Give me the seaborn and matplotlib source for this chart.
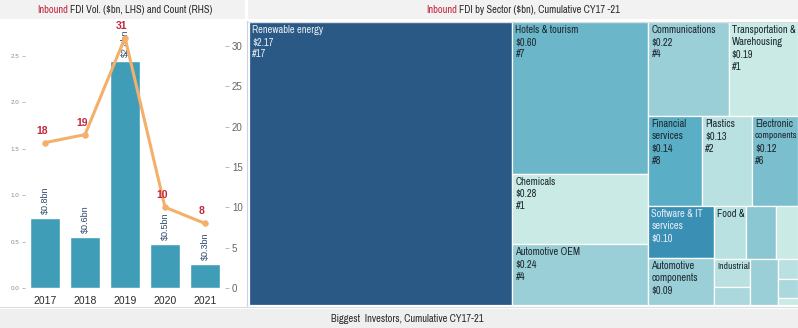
import numpy as np
import pandas as pd
import matplotlib
matplotlib.use("Agg")
import matplotlib.pyplot as plt
import seaborn as sns
from matplotlib.patches import Rectangle
from matplotlib.lines import Line2D
from matplotlib.colors import LinearSegmentedColormap, to_rgb
from matplotlib.textpath import TextPath
from matplotlib.font_manager import FontProperties, fontManager

# ---- yearly inbound FDI ----
years = ["2017", "2018", "2019", "2020", "2021"]
fdi_volume_bn = [0.75, 0.55, 2.44, 0.47, 0.26]
project_count = [18, 19, 31, 10, 8]

# ---- cumulative FDI by sector ----
sectors = [
    "Renewable energy", "Hotels & tourism", "Chemicals", "Automotive OEM",
    "Communications", "Transportation &\nWarehousing", "Financial\nservices",
    "Plastics", "Electronic\ncomponents", "Software & IT\nservices",
    "Automotive\ncomponents", "Food &\nBeverages", "Pharmaceuticals",
    "Consumer\nproducts", "Industrial\nmachinery", "Semiconductors",
    "Aerospace", "Metals", "Textiles", "Healthcare",
]
sector_value_bn = [2.17, 0.60, 0.28, 0.24, 0.22, 0.19, 0.14, 0.13, 0.12, 0.10,
                   0.09, 0.049, 0.046, 0.034, 0.029, 0.019, 0.038, 0.012,
                   0.011, 0.004]
sector_count = [17, 7, 1, 4, 4, 1, 8, 2, 6, 11, 4, 2, 5, 1, 2, 3, 4, 2, 3, 1]
# sectors grouped into the strips of the treemap, in drawing order
sector_strips = [[0], [1, 2, 3], [4, 5], [6, 7, 8], [9, 10], [11, 12, 13],
                 [14, 15], [16], [17], [18], [19]]

# ---- styling ----
W_PX, H_PX, DPI = 798, 328, 100
BAR = "#3f9db7"
LINE = "#f4b06a"
RED = "#c0283c"
NAVY = "#2c4a6e"
DARK = "#2a2a2a"

sns.set_theme(style="white")
plt.rcParams["font.family"] = ["Liberation Sans", "DejaVu Sans"]


def find_narrow_font():
    """Locate an installed narrow/condensed regular sans face, if any."""
    regular = lambda f: f.style == "normal" and f.weight in (400, "normal", "regular", "book")
    for f in fontManager.ttflist:
        n = f.name.lower()
        if ("narrow" in n or "condensed" in n) and regular(f) and "mono" not in n and "serif" not in n:
            return f.fname
    for f in fontManager.ttflist:
        n = f.name.lower()
        if (str(f.stretch) in ("condensed", "semi-condensed", "extra-condensed", "75", "87")
                and regular(f) and "mono" not in n and "serif" not in n):
            return f.fname
    return None


narrow_path = find_narrow_font()


def narrow_prop(size):
    if narrow_path:
        return FontProperties(fname=narrow_path, size=size)
    return FontProperties(family="Liberation Sans", size=size * 0.87)


fig = plt.figure(figsize=(W_PX / DPI, H_PX / DPI), dpi=DPI)
fig.patch.set_facecolor("white")


def fig_box(x0, y0, x1, y1):
    """Pixel box (top-left origin) -> figure fraction rect."""
    return [x0 / W_PX, 1 - y1 / H_PX, (x1 - x0) / W_PX, (y1 - y0) / H_PX]


def band(x0, y0, x1, y1, color):
    b = fig_box(x0, y0, x1, y1)
    fig.patches.append(Rectangle((b[0], b[1]), b[2], b[3], transform=fig.transFigure,
                                 facecolor=color, edgecolor="none", zorder=0))


def hline(x0, x1, y, color):
    fig.lines.append(Line2D([x0 / W_PX, x1 / W_PX], [1 - y / H_PX] * 2,
                            transform=fig.transFigure, color=color, lw=0.8))


def vline(x, y0, y1, color):
    fig.lines.append(Line2D([x / W_PX] * 2, [1 - y0 / H_PX, 1 - y1 / H_PX],
                            transform=fig.transFigure, color=color, lw=0.8))


# header / footer bands
band(0, 0, 245, 19, "#f2f2f2")
band(248, 0, 798, 19, "#f2f2f2")
band(0, 309, 798, 328, "#efefef")
vline(246.5, 21, 306, "#c9d4de")
hline(0, 798, 306.5, "#d9dde2")
hline(248, 798, 21.5, "#d9dde2")


def two_tone(cx, cy, red_part, rest, size=7.5):
    renderer = fig.canvas.get_renderer()
    prop = narrow_prop(size)
    t1 = fig.text(0, 1 - cy / H_PX, red_part, color=RED, fontproperties=prop, va="center")
    t2 = fig.text(0, 1 - cy / H_PX, rest, color=DARK, fontproperties=prop, va="center")
    w1 = t1.get_window_extent(renderer).width
    w2 = t2.get_window_extent(renderer).width
    gap = 2
    start = cx - (w1 + gap + w2) / 2
    t1.set_x(start / W_PX)
    t2.set_x((start + w1 + gap) / W_PX)


two_tone(125, 10, "Inbound", "FDI Vol. ($bn, LHS) and Count (RHS)")
two_tone(523, 10, "Inbound", "FDI by Sector ($bn), Cumulative CY17 -21")
fig.text(407 / W_PX, 1 - 319 / H_PX, "Biggest  Investors, Cumulative CY17-21",
         ha="center", va="center", fontproperties=narrow_prop(7.5), color=DARK)

# ---- left panel: bars (volume) + line (count) ----
ax = fig.add_axes(fig_box(25, 28, 225, 288))
vol_df = pd.DataFrame({"year": years, "volume": fdi_volume_bn, "count": project_count})
sns.barplot(data=vol_df, x="year", y="volume", color=BAR, saturation=1,
            width=0.75, ax=ax)
ax.set_ylim(0, 2.8)
ax.set_yticks([0, 0.5, 1.0, 1.5, 2.0, 2.5])
ax.set_yticklabels([f"{t:.1f}" for t in [0, 0.5, 1.0, 1.5, 2.0, 2.5]])
ax.set_xlabel("")
ax.set_ylabel("")
ax.bar_label(ax.containers[0], labels=[f"${v:.1f}bn" for v in fdi_volume_bn],
             rotation=90, padding=3, fontsize=6.5, color=NAVY)
ax.tick_params(axis="y", length=2, width=0.6, color="#b0b0b0", labelsize=4.5,
               labelcolor="#8a8a8a", pad=2, left=True)
ax.tick_params(axis="x", length=0, labelsize=7.5, labelcolor=DARK, pad=6)

ax2 = ax.twinx()
sns.pointplot(data=vol_df, x="year", y="count", color=LINE, markers="o",
              markersize=3, linewidth=2.2, errorbar=None, ax=ax2)
ax2.set_ylim(0, 32.2)
ax2.set_yticks([0, 5, 10, 15, 20, 25, 30])
ax2.set_ylabel("")
ax2.tick_params(axis="y", length=3, width=0.6, color="#b0b0b0", labelsize=7,
                labelcolor="#666666", pad=2, right=True)
for i, c in enumerate(project_count):
    ax2.annotate(str(c), (i, c), xytext=(-3, 12), textcoords="offset pixels",
                 ha="center", va="center", color=RED, fontsize=7.5,
                 fontweight="bold", annotation_clip=False)
ax.set_xlim(-0.5, 4.5)
for a in (ax, ax2):
    for s in a.spines.values():
        s.set_visible(False)

# ---- right panel: treemap ----
TM_W, TM_H = 549, 283
tm = fig.add_axes(fig_box(249, 22, 798, 305))
tm.set_xlim(0, TM_W)
tm.set_ylim(TM_H, 0)
tm.axis("off")

cmap = LinearSegmentedColormap.from_list(
    "blueteal",
    [(0.0, "#c9eae5"), (3 / 16, "#9bcfd8"), (6 / 16, "#6cb6c9"),
     (7 / 16, "#5aaec5"), (10 / 16, "#3a8fb5"), (1.0, "#2b5986")])


def strip_layout(strips, values, x, y, w, h):
    rects = {}
    remaining = float(sum(values))
    for strip in strips:
        s = sum(values[i] for i in strip)
        frac = s / remaining
        if w >= h:
            sw = w * frac
            yy = y
            for i in strip:
                hh = h * values[i] / s
                rects[i] = (x, yy, sw, hh)
                yy += hh
            x += sw
            w -= sw
        else:
            sh = h * frac
            xx = x
            for i in strip:
                ww = w * values[i] / s
                rects[i] = (xx, y, ww, sh)
                xx += ww
            y += sh
            h -= sh
        remaining -= s
    return rects


LINE_PX = 12.2
PAD = 3
LABEL_PT = 7.5
label_prop = narrow_prop(LABEL_PT)


def text_px(s):
    if not s.strip():
        return 0.0
    return TextPath((0, 0), s, prop=label_prop).get_extents().width * DPI / 72


rects = strip_layout(sector_strips, sector_value_bn, 0, 0, TM_W, TM_H)
for i, (x, y, w, h) in rects.items():
    color = cmap((sector_count[i] - 1) / 16)
    tm.add_patch(Rectangle((x, y), w, h, facecolor=color, edgecolor="white",
                           lw=0.9))
    lines = sectors[i].split("\n") + [f"${sector_value_bn[i]:.2f}",
                                       f"#{sector_count[i]}"]
    max_lines = int((h - 2 * PAD) // LINE_PX)
    avail = w - PAD - 1.5
    shown = []
    for ln in lines[:max_lines]:
        scale = min(1.0, avail / max(text_px(ln), 1e-6))
        if scale < 0.82:
            break
        shown.append((ln, scale))
    r, g, b = to_rgb(color)
    txt_color = "#e6edf3" if (0.299 * r + 0.587 * g + 0.114 * b) < 0.5 else "#1e2830"
    for k, (ln, scale) in enumerate(shown):
        tm.text(x + PAD, y + PAD + k * LINE_PX, ln, ha="left", va="top",
                fontproperties=narrow_prop(LABEL_PT * scale), color=txt_color)

fig.savefig("out.png", dpi=DPI)
